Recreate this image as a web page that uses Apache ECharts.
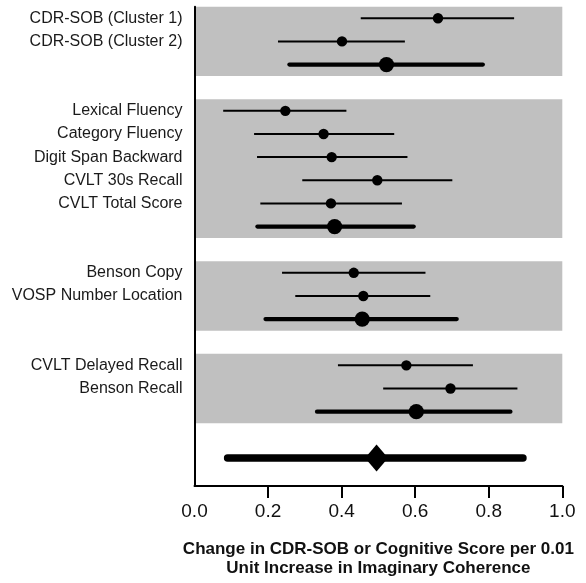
<!DOCTYPE html>
<html>
<head>
<meta charset="utf-8">
<script src="https://cdn.jsdelivr.net/npm/echarts@6/dist/echarts.min.js"></script>
<style>
html,body{margin:0;padding:0;background:#fff;}
#chart{width:586px;height:583px;}
</style>
</head>
<body>
<div id="chart"></div>
<script>
// Row labels (top to bottom); '' = pooled estimate row or spacer row
const rowLabels = [
  'CDR-SOB (Cluster 1)', 'CDR-SOB (Cluster 2)', '', '',
  'Lexical Fluency', 'Category Fluency', 'Digit Span Backward', 'CVLT 30s Recall', 'CVLT Total Score', '', '',
  'Benson Copy', 'VOSP Number Location', '', '',
  'CVLT Delayed Recall', 'Benson Recall', '', '',
  ''
];
// Row kind: study estimate, pooled group estimate, spacer, overall estimate
const rowKinds = [
  'study', 'study', 'pooled', 'gap',
  'study', 'study', 'study', 'study', 'study', 'pooled', 'gap',
  'study', 'study', 'pooled', 'gap',
  'study', 'study', 'pooled', 'gap',
  'overall'
];
const estimates = [0.662, 0.401, 0.522, null, 0.247, 0.351, 0.373, 0.497, 0.371, 0.381, null, 0.433, 0.459, 0.456, null, 0.576, 0.696, 0.603, null, 0.495];
const lowerCI   = [0.452, 0.227, 0.258, null, 0.078, 0.162, 0.170, 0.293, 0.179, 0.171, null, 0.238, 0.274, 0.193, null, 0.390, 0.513, 0.333, null, 0.090];
const upperCI   = [0.869, 0.572, 0.784, null, 0.413, 0.543, 0.579, 0.701, 0.564, 0.596, null, 0.628, 0.641, 0.713, null, 0.757, 0.878, 0.859, null, 0.893];
const xTicks = [0.2, 0.4, 0.6, 0.8, 1.0];
const xAxisTitle = 'Change in CDR-SOB or Cognitive Score per 0.01\nUnit Increase in Imaginary Coherence';

// Group bands: contiguous runs of study/pooled rows
const bandGroups = [];
let start = null;
rowKinds.forEach((k, i) => {
  const inBand = (k === 'study' || k === 'pooled');
  if (inBand && start === null) start = i;
  if (!inBand && start !== null) { bandGroups.push([0, 1, start, i - 1]); start = null; }
});
if (start !== null) bandGroups.push([0, 1, start, rowKinds.length - 1]);

const ciData = [];
rowKinds.forEach((k, i) => {
  if (k !== 'gap') ciData.push([lowerCI[i], upperCI[i], estimates[i], i, k]);
});

const FONT = "'Liberation Sans', Arial, sans-serif";
const GL = 194.5, GR = 23.7, GT = 6.7, ROWH = 23.14;

const chart = echarts.init(document.getElementById('chart'), null, {renderer: 'canvas'});
chart.setOption({
  animation: false,
  backgroundColor: '#fff',
  grid: [
    {left: GL, right: GR, top: GT, height: ROWH * rowLabels.length},
    {left: GL, right: GR, top: GT, bottom: 96}
  ],
  xAxis: [
    {gridIndex: 0, type: 'value', min: 0, max: 1, show: false},
    {
      gridIndex: 1, type: 'value', min: 0, max: 1, interval: 0.2, z: 10,
      axisLine: {show: true, onZero: false, lineStyle: {color: '#000', width: 2}},
      axisTick: {show: true, length: 12, lineStyle: {color: '#000', width: 2}, customValues: xTicks},
      axisLabel: {fontSize: 19, color: '#111', fontFamily: FONT, margin: 16,
        formatter: v => v.toFixed(1)},
      splitLine: {show: false},
      name: xAxisTitle,
      nameLocation: 'middle',
      nameGap: 54,
      nameTextStyle: {fontSize: 17, fontWeight: 'bold', color: '#111', fontFamily: FONT, lineHeight: 19}
    }
  ],
  yAxis: [
    {
      gridIndex: 0, type: 'category', inverse: true, data: rowLabels,
      axisLine: {show: false}, axisTick: {show: false},
      axisLabel: {fontSize: 16, color: '#1a1a1a', fontFamily: FONT, margin: 12, interval: 0}
    },
    {
      gridIndex: 1, type: 'value', min: 0, max: 1, z: 10,
      axisLine: {show: true, onZero: false, lineStyle: {color: '#000', width: 2}},
      axisTick: {show: false}, axisLabel: {show: false}, splitLine: {show: false}
    }
  ],
  series: [
    {
      type: 'custom', xAxisIndex: 0, yAxisIndex: 0, data: bandGroups, z: 1, silent: true,
      encode: {x: [0, 1], y: [2, 3]},
      renderItem: function (params, api) {
        const bw = api.size([0, 1])[1];
        const p0 = api.coord([api.value(0), api.value(2)]);
        const p1 = api.coord([api.value(1), api.value(3)]);
        return {
          type: 'rect',
          shape: {x: p0[0], y: p0[1] - bw / 2, width: p1[0] - p0[0], height: p1[1] - p0[1] + bw},
          style: {fill: '#c0c0c0'}
        };
      }
    },
    {
      type: 'custom', xAxisIndex: 0, yAxisIndex: 0, data: ciData, z: 5,
      encode: {x: [0, 1, 2], y: 3},
      renderItem: function (params, api) {
        const kind = ciData[params.dataIndex][4];
        const row = api.value(3);
        const a = api.coord([api.value(0), row]);
        const b = api.coord([api.value(1), row]);
        const c = api.coord([api.value(2), row]);
        const lw = kind === 'study' ? 2 : (kind === 'pooled' ? 4.2 : 7.5);
        const children = [{
          type: 'line',
          shape: {x1: a[0], y1: a[1], x2: b[0], y2: b[1]},
          style: {stroke: '#000', lineWidth: lw, lineCap: kind === 'study' ? 'butt' : 'round'}
        }];
        if (kind === 'overall') {
          const hw = 11.5, hh = 13.5;
          children.push({
            type: 'polygon',
            shape: {points: [[c[0], c[1] - hh], [c[0] + hw, c[1]], [c[0], c[1] + hh], [c[0] - hw, c[1]]]},
            style: {fill: '#000'}
          });
        } else {
          children.push({
            type: 'circle',
            shape: {cx: c[0], cy: c[1], r: kind === 'study' ? 5.2 : 7.6},
            style: {fill: '#000'}
          });
        }
        return {type: 'group', children: children};
      }
    }
  ]
});
</script>
</body>
</html>
